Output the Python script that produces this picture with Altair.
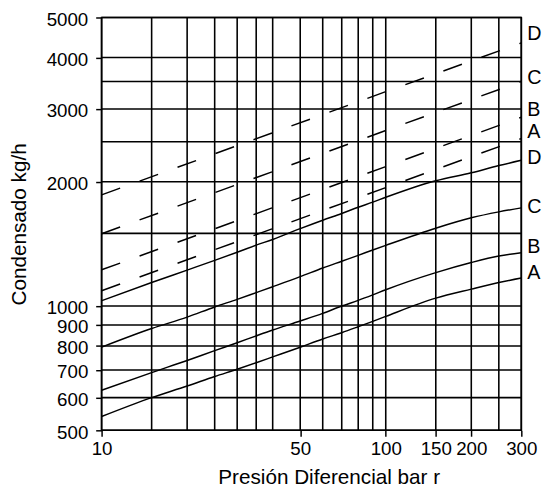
import altair as alt
import pandas as pd

# ---- data ----
grid_x = [10, 15, 20, 25, 30, 35, 40, 50, 60, 70, 80, 90, 100, 150, 200, 250, 300]
grid_y = [500, 600, 700, 800, 900, 1000, 1500, 2000, 2500, 3000, 3500, 4000, 5000]
x_labels = [10, 50, 100, 150, 200, 300]
y_labels = [500, 600, 700, 800, 900, 1000, 2000, 3000, 4000, 5000]

solid_x = [10, 15, 20, 25, 30, 35, 40, 50, 60, 70, 80, 90, 100, 150, 200, 250, 300]
solid_A = [540, 600, 640, 675, 703, 729, 753, 795, 832, 862, 891, 918, 944, 1045, 1099, 1140, 1169]
solid_B = [625, 690, 738, 780, 815, 847, 875, 920, 960, 1000, 1032, 1064, 1095, 1205, 1275, 1322, 1347]
solid_C = [795, 882, 940, 995, 1038, 1078, 1114, 1178, 1236, 1284, 1327, 1367, 1403, 1544, 1636, 1691, 1729]
solid_D = [1030, 1140, 1222, 1290, 1350, 1405, 1450, 1540, 1614, 1676, 1735, 1785, 1834, 2011, 2103, 2189, 2254]

dashed_x = [10, 100, 300]
dashed_A = [1089, 1936, 2545]
dashed_B = [1224, 2177, 2866]
dashed_C = [1497, 2662, 3500]
dashed_D = [1859, 3306, 4340]

label_text = ["D", "C", "B", "A", "D", "C", "B", "A"]
label_x = [300, 300, 300, 300, 300, 300, 300, 300]
label_y = [4562, 3576, 2980, 2640, 2287, 1740, 1391, 1203]

# ---- tables ----
solid_rows = []
for name, vals in [("A", solid_A), ("B", solid_B), ("C", solid_C), ("D", solid_D)]:
    for xv, yv in zip(solid_x, vals):
        solid_rows.append({"x": xv, "y": yv, "series": name})
solid_df = pd.DataFrame(solid_rows)

dashed_rows = []
for name, vals in [("A", dashed_A), ("B", dashed_B), ("C", dashed_C), ("D", dashed_D)]:
    for xv, yv in zip(dashed_x, vals):
        dashed_rows.append({"x": xv, "y": yv, "series": name})
dashed_df = pd.DataFrame(dashed_rows)

gx_df = pd.DataFrame({"x": grid_x})
gy_df = pd.DataFrame({"y": grid_y})
lab_df = pd.DataFrame({"x": label_x, "y": label_y, "t": label_text})

FONT = "Liberation Sans"

xs = alt.Scale(type="log", domain=[10, 300], nice=False)
ys = alt.Scale(type="log", domain=[500, 5000], nice=False)

xaxis = alt.Axis(values=x_labels, format="d", grid=False, domain=False,
                 tickSize=6, tickColor="black", tickWidth=1.5,
                 labelFont=FONT, labelFontSize=19, labelColor="black", labelPadding=4,
                 labelFlush=False, labelOverlap=False,
                 title="Presión Diferencial bar r", titleFont=FONT, titleFontSize=21,
                 titleFontWeight="normal", titleColor="black",
                 titleX=230.5, titleY=54, titleBaseline="alphabetic")
yaxis = alt.Axis(values=y_labels, format="d", grid=False, domain=False,
                 tickSize=6, tickColor="black", tickWidth=1.5,
                 labelFont=FONT, labelFontSize=19, labelColor="black", labelPadding=8,
                 labelOffset=2, labelFlush=False, labelOverlap=False,
                 title="Condensado kg/h", titleFont=FONT, titleFontSize=21,
                 titleFontWeight="normal", titleColor="black",
                 titleX=-77, titleBaseline="alphabetic")

X = alt.X("x:Q", scale=xs, axis=xaxis)
Y = alt.Y("y:Q", scale=ys, axis=yaxis)

vgrid = alt.Chart(gx_df).mark_rule(color="black", strokeWidth=1.6).encode(x=X)
hgrid = alt.Chart(gy_df).mark_rule(color="black", strokeWidth=1.6).encode(y=Y)

solid = alt.Chart(solid_df).mark_line(color="black", strokeWidth=1.5, interpolate="monotone").encode(
    x=X, y=Y, detail="series:N")
dashed = alt.Chart(dashed_df).mark_line(color="black", strokeWidth=1.5, strokeDash=[20, 21]).encode(
    x=X, y=Y, detail="series:N")

labels = alt.Chart(lab_df).mark_text(align="left", baseline="middle", dx=6, font=FONT,
                                     fontSize=20, color="black").encode(
    x=X, y=Y, text="t:N")

chart = alt.layer(vgrid, hgrid, solid, dashed, labels).properties(
    width=426, height=419,
    padding={"left": 95, "top": 6, "right": 22, "bottom": 62},
    autosize=alt.AutoSizeParams(type="none"),
    background="white",
).configure_view(stroke="black", strokeWidth=1.6)

chart.save("out.html", embed_options={"renderer": "svg", "actions": False})
